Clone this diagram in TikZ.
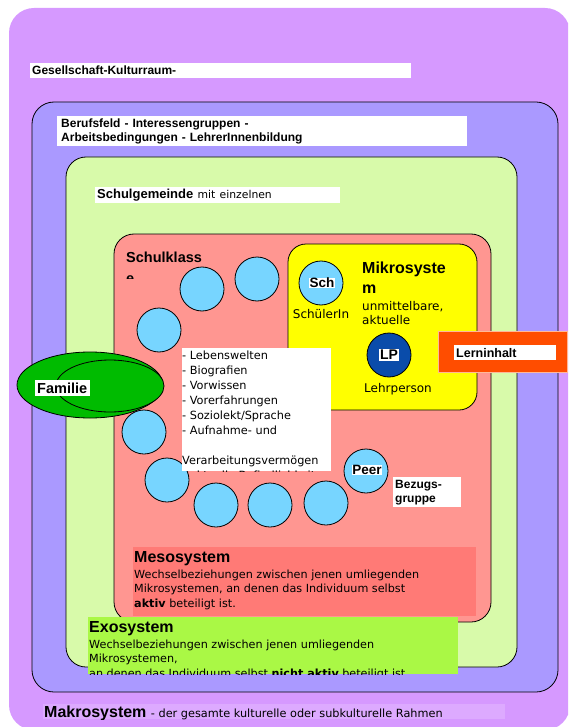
\documentclass[tikz,border=0pt]{standalone}
\usepackage{fontspec}
\setmainfont{Liberation Sans}
\newfontfamily\geneva{DejaVu Sans}
\usetikzlibrary{positioning}

\definecolor{makro}{HTML}{D699FF}
\definecolor{makrotag}{HTML}{DDAAFF}
\definecolor{exoblue}{HTML}{AA99FF}
\definecolor{gemeinde}{HTML}{D8FAAA}
\definecolor{klasse}{HTML}{FF9691}
\definecolor{meso}{HTML}{FF7A76}
\definecolor{mikro}{HTML}{FFFF00}
\definecolor{lerninhalt}{HTML}{FF4D00}
\definecolor{exo}{HTML}{AAF845}
\definecolor{peerblue}{HTML}{77D5FF}
\definecolor{lpblue}{HTML}{0A4CAA}
\definecolor{famgreen}{HTML}{00BB00}

\newcommand{\labfont}{\bfseries\fontsize{12}{14}\selectfont}
\newcommand{\headfont}{\bfseries\fontsize{16}{18}\selectfont}
\newcommand{\txtfont}{\geneva\fontsize{11.3}{15}\selectfont}
\newcommand{\smallfont}{\geneva\fontsize{11.2}{14.5}\selectfont}

\begin{document}
\begin{tikzpicture}[x=1pt, y=-1pt,
	box/.style={draw=black, line width=0.8pt, rounded corners=20pt},
	peer/.style={circle, draw=black, line width=0.8pt, fill=peerblue, minimum size=44pt, inner sep=0pt},
	tag/.style={fill=white, anchor=north west, align=left, inner ysep=0pt, inner xsep=2pt, font=\labfont},
	plain/.style={anchor=base west, align=left, inner sep=0pt}]

	\useasboundingbox (0,0) rectangle (568,727);

	% Makrosystem
	\begin{scope}
		\clip (0,0) rectangle (568,727);
		\fill [makro, rounded corners=25pt] (9,8) rectangle (570,730);
	\end{scope}
	\node (gesellschaft) [tag, text width=377pt, minimum height=15pt] at (30,63) {Gesellschaft-Kulturraum-};

	% Exosystem
	\draw [box, fill=exoblue, rounded corners=22pt] (32,102) rectangle (558,692);
	\node (berufsfeld) [tag, inner xsep=4pt, text width=402pt, minimum height=30pt] at (57,116) {Berufsfeld - Interessengruppen -\\Arbeitsbedingungen - LehrerInnenbildung};

	% Schulgemeinde
	\draw [box, fill=gemeinde] (66,157) rectangle (517,667);
	\node (gemeinde) [tag, font=\bfseries\fontsize{13}{15}\selectfont, text width=241pt, minimum height=16pt] at (95,187) {Schulgemeinde {\geneva\mdseries\fontsize{10.8}{12}\selectfont mit einzelnen}};

	% Schulklasse
	\draw [box, fill=klasse] (114,234) rectangle (491,622);
	\begin{scope}
		\clip (114,234) rectangle (300,278);
		\node (klasse) [plain, font=\bfseries\fontsize{14.5}{21}\selectfont] at (126,283) {Schulklass\\e};
	\end{scope}

	% Mikrosystem
	\draw [box, fill=mikro, rounded corners=18pt] (288,244) rectangle (477,410);
	\node (sch) [peer] at (321,283) {};
	\node (schtag) [fill=white, inner sep=0.5pt, font=\bfseries\fontsize{13.5}{15}\selectfont] at ([xshift=1pt]sch.center) {Sch};
	\node (schueler) [anchor=base, inner sep=0pt, font=\geneva\fontsize{12}{14}\selectfont] at (321,318) {SchülerIn};
	\node (mikrosys) [plain, font=\bfseries\fontsize{16}{20}\selectfont] at (362,293) {Mikrosyste\\m};
	\node (mikrotxt) [plain, font=\geneva\fontsize{12}{14}\selectfont] at (362,324) {unmittelbare,\\aktuelle};
	\node (lp) [peer, fill=lpblue] at (389,355) {};
	\node (lptag) [fill=white, inner sep=1pt, font=\bfseries\fontsize{14}{16}\selectfont] at (lp) {LP};
	\node (lehrperson) [anchor=base, inner sep=0pt, font=\geneva\fontsize{12}{14}\selectfont] at (398,392) {Lehrperson};

	\node (lernbox) [draw=lerninhalt!40!white, line width=0.6pt, fill=lerninhalt, anchor=north west, minimum width=129pt, minimum height=41pt] at (438,331) {};
	\node (lern) [tag, font=\bfseries\fontsize{12.5}{14}\selectfont, text width=98pt, minimum height=15pt] at (454,345) {Lerninhalt};

	% Familie
	\draw [fill=famgreen, line width=0.8pt] (90,385) ellipse [x radius=73pt, y radius=33pt];
	\draw [fill=famgreen, line width=0.8pt] (110,386) ellipse [x radius=54pt, y radius=26pt];
	\node (familie) [tag, font=\bfseries\fontsize{14.5}{16}\selectfont, text width=51pt, minimum height=16pt] at (35,380) {Familie};

	% Mitschueler
	\node (p1) [peer] at (202,289) {};
	\node (p2) [peer] at (257,279) {};
	\node (p3) [peer] at (159,330) {};
	\node (p4) [peer] at (144,432) {};
	\node (p5) [peer] at (167,480) {};
	\node (p6) [peer] at (216,505) {};
	\node (p7) [peer] at (270,505) {};
	\node (p8) [peer] at (326,503) {};
	\node (peer) [peer] at (366,471) {};
	\node (peertag) [fill=white, inner sep=0.5pt, font=\bfseries\fontsize{13.5}{15}\selectfont] at ([xshift=1pt,yshift=1pt]peer.center) {Peer};
	\node (bezug) [tag, text width=64pt, minimum height=30pt] at (393,477) {Bezugs-\\gruppe};

	\fill [white] (182,348) rectangle (331,471);
	\begin{scope}
		\clip (182,348) rectangle (331,471);
		\node (liste) [plain, font=\txtfont] at (182,479) {- Lebenswelten\\- Biografien\\- Vorwissen\\- Vorerfahrungen\\- Soziolekt/Sprache\\- Aufnahme- und\\ \\Verarbeitungsvermögen\\- aktuelle Befindlichkeit};
	\end{scope}

	% Meso / Exo
	\fill [meso] (133,547) rectangle (476,616);
	\node (mesosys) [plain, font=\headfont] at (134,562) {Mesosystem};
	\node (mesotxt) [plain, font=\smallfont] at (134,607) {Wechselbeziehungen zwischen jenen umliegenden\\Mikrosystemen, an denen das Individuum selbst\\\textbf{aktiv} beteiligt ist.};

	\fill [exo] (88,617) rectangle (458,674);
	\begin{scope}
		\clip (88,617) rectangle (458,674);
		\node (exosys) [plain, font=\headfont] at (89,632) {Exosystem};
		\node (exotxt) [plain, font=\smallfont] at (89,677) {Wechselbeziehungen zwischen jenen umliegenden\\Mikrosystemen,\\an denen das Individuum selbst \textbf{nicht aktiv} beteiligt ist.};
	\end{scope}

	\fill [makrotag] (43,704) rectangle (505,719);
	\begin{scope}
		\clip (40,700) rectangle (510,719);
		\node (makrosys) [plain, font=\headfont] at (44,717) {Makrosystem {\geneva\mdseries\fontsize{11.3}{12}\selectfont - der gesamte kulturelle oder subkulturelle Rahmen}};
	\end{scope}
\end{tikzpicture}
\end{document}
